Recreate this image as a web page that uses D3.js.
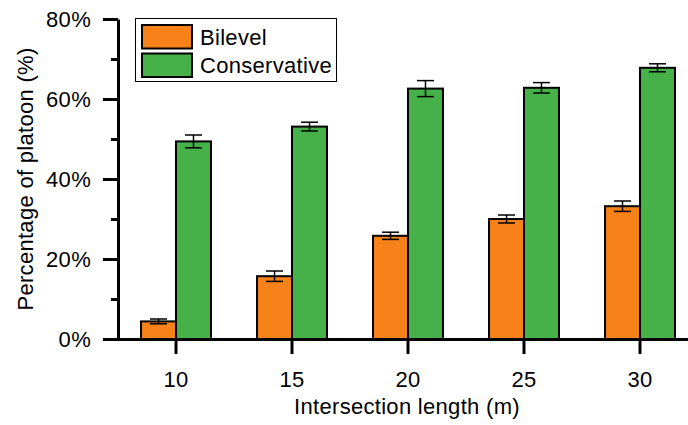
<!DOCTYPE html>
<html><head><meta charset="utf-8">
<script src="https://cdn.jsdelivr.net/npm/d3@7"></script>
<style>
html,body{margin:0;padding:0;background:#fff;}
svg text{font-family:"Liberation Sans",Arial,Helvetica,sans-serif;fill:#000;letter-spacing:0.3px;}
</style></head>
<body><svg id="chart" width="688" height="425"></svg>
<script>
const categories = ["10","15","20","25","30"];
const series = ["Bilevel","Conservative"];
const bilevel = [4.4, 15.7, 25.8, 30.0, 33.2];
const bilevelErr = [0.6, 1.3, 0.9, 1.0, 1.3];
const conservative = [49.4, 53.1, 62.6, 62.8, 67.8];
const conservativeErr = [1.6, 1.1, 2.0, 1.3, 1.0];
const majorTicks = [0, 20, 40, 60, 80];
const minorTicks = [10, 30, 50, 70];
const colors = ["#F8821A", "#47B149"];

const FS = 22;
const svg = d3.select("#chart");
const x = d3.scaleBand().domain(categories).range([118, 698]).paddingInner(0.397).paddingOuter(0.1985);
const xs = d3.scaleBand().domain(series).range([0, x.bandwidth()]);
const y = d3.scaleLinear().domain([0, 80]).range([339, 19]);
const color = d3.scaleOrdinal().domain(series).range(colors);

const data = [];
categories.forEach((c, i) => {
  data.push({cat: c, s: series[0], v: bilevel[i], e: bilevelErr[i]});
  data.push({cat: c, s: series[1], v: conservative[i], e: conservativeErr[i]});
});

// bars
svg.append("g").selectAll("rect").data(data).join("rect")
  .attr("x", d => x(d.cat) + xs(d.s))
  .attr("y", d => y(d.v))
  .attr("width", xs.bandwidth())
  .attr("height", d => y(0) - y(d.v))
  .attr("fill", d => color(d.s))
  .attr("stroke", "#000").attr("stroke-width", 2);

// error bars
const eb = svg.append("g").attr("stroke", "#000").attr("stroke-width", 1.5);
data.forEach(d => {
  const cx = x(d.cat) + xs(d.s) + xs.bandwidth() / 2;
  eb.append("line").attr("x1", cx).attr("x2", cx).attr("y1", y(d.v + d.e)).attr("y2", y(d.v - d.e));
  eb.append("line").attr("x1", cx - 8.5).attr("x2", cx + 8.5).attr("y1", y(d.v + d.e)).attr("y2", y(d.v + d.e));
  eb.append("line").attr("x1", cx - 8.5).attr("x2", cx + 8.5).attr("y1", y(d.v - d.e)).attr("y2", y(d.v - d.e));
});

// y axis
const yAxis = svg.append("g").attr("transform", "translate(118,0)")
  .call(d3.axisLeft(y).tickValues(majorTicks).tickFormat(d => d + "%").tickSize(15).tickSizeOuter(0).tickPadding(12));
yAxis.select(".domain").attr("stroke-width", 3);
yAxis.selectAll(".tick line").attr("stroke-width", 3);
yAxis.selectAll(".tick text").attr("font-size", FS).attr("font-family", "Liberation Sans, Arial, sans-serif");
svg.append("g").attr("transform", "translate(118,0)")
  .call(d3.axisLeft(y).tickValues(minorTicks).tickFormat("").tickSize(7).tickSizeOuter(0))
  .call(g => g.select(".domain").remove())
  .selectAll(".tick line").attr("stroke-width", 3);

// x axis
const xAxis = svg.append("g").attr("transform", "translate(0,339)")
  .call(d3.axisBottom(x).tickSize(15).tickSizeOuter(0).tickPadding(17));
xAxis.select(".domain").attr("stroke-width", 3).attr("d", "M103,0.5H688");
xAxis.selectAll(".tick line").attr("stroke-width", 3);
xAxis.selectAll(".tick text").attr("font-size", FS).attr("font-family", "Liberation Sans, Arial, sans-serif");

// axis titles
svg.append("text").attr("x", 407).attr("y", 414).attr("text-anchor", "middle")
  .attr("font-size", FS).text("Intersection length (m)");
svg.append("text").attr("transform", "translate(33,179) rotate(-90)").attr("text-anchor", "middle")
  .attr("font-size", FS).text("Percentage of platoon (%)");

// legend
const lg = svg.append("g");
lg.append("rect").attr("x", 135.5).attr("y", 18.5).attr("width", 201).attr("height", 63)
  .attr("fill", "#fff").attr("stroke", "#000").attr("stroke-width", 1);
series.forEach((s, i) => {
  lg.append("rect").attr("x", 142).attr("y", 25 + i * 28.5).attr("width", 50).attr("height", 23.5)
    .attr("fill", color(s)).attr("stroke", "#000").attr("stroke-width", 2);
  lg.append("text").attr("x", 200).attr("y", 45 + i * 27.5).attr("font-size", FS).text(s);
});
</script></body></html>
